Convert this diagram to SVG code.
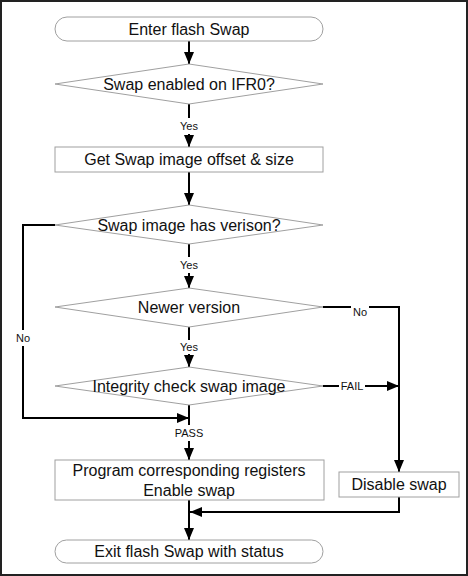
<svg xmlns="http://www.w3.org/2000/svg" width="468" height="576" viewBox="0 0 468 576">
<defs>
<style>
.shape{fill:#fff;stroke:#a0a0a0;stroke-width:1}
.t{font-family:"Liberation Sans",Arial,sans-serif;font-size:16px;fill:#111;text-anchor:middle;dominant-baseline:central}
.lbl{font-family:"Liberation Sans",Arial,sans-serif;font-size:11px;fill:#111;text-anchor:middle;dominant-baseline:central}
.c{fill:none;stroke:#000;stroke-width:2}
</style>
<marker id="ah" markerWidth="12" markerHeight="10" refX="12" refY="5" orient="auto" markerUnits="userSpaceOnUse"><path d="M0,0 L12,5 L0,10 z" fill="#000"/></marker>
</defs>
<rect x="1" y="1" width="466" height="574" fill="#fff" stroke="#222" stroke-width="2"/>
<g id="connectors">
<path class="c" d="M189,41 V64" marker-end="url(#ah)"/>
<path class="c" d="M189,104 V118"/>
<path class="c" d="M189,134 V147" marker-end="url(#ah)"/>
<path class="c" d="M189,172 V205" marker-end="url(#ah)"/>
<path class="c" d="M55,225 H23 V330"/>
<path class="c" d="M23,346 V418 H189" marker-end="url(#ah)"/>
<path class="c" d="M189,244 V257"/>
<path class="c" d="M189,273 V288" marker-end="url(#ah)"/>
<path class="c" d="M323,307 H351"/>
<path class="c" d="M369,307 H399 V472" marker-end="url(#ah)"/>
<path class="c" d="M189,327 V340"/>
<path class="c" d="M189,354 V367" marker-end="url(#ah)"/>
<path class="c" d="M323,386 H339"/>
<path class="c" d="M365,386 H399" marker-end="url(#ah)"/>
<path class="c" d="M189,405 V425"/>
<path class="c" d="M189,441 V460" marker-end="url(#ah)"/>
<path class="c" d="M189,500 V540" marker-end="url(#ah)"/>
<path class="c" d="M399,497 V512 H190" marker-end="url(#ah)"/>
<text class="lbl" x="189" y="126">Yes</text>
<text class="lbl" x="23" y="338">No</text>
<text class="lbl" x="189" y="265">Yes</text>
<text class="lbl" x="360" y="312">No</text>
<text class="lbl" x="189" y="347">Yes</text>
<text class="lbl" x="352" y="386">FAIL</text>
<text class="lbl" x="189" y="433">PASS</text>
</g>
<g id="start">
<rect class="shape" x="55" y="17" width="268" height="24" rx="12"/>
<text class="t" x="189" y="29">Enter flash Swap</text>
</g>
<g id="swapEnabled">
<polygon class="shape" points="189,64 323,84 189,104 55,84"/>
<text class="t" x="189" y="84">Swap enabled on IFR0?</text>
</g>
<g id="getOffset">
<rect class="shape" x="55" y="147" width="268" height="25"/>
<text class="t" x="189" y="159.5">Get Swap image offset &amp; size</text>
</g>
<g id="hasVersion">
<polygon class="shape" points="189,205 323,225 189,244 55,225"/>
<text class="t" x="189" y="225">Swap image has verison?</text>
</g>
<g id="newerVersion">
<polygon class="shape" points="189,288 323,307 189,327 55,307"/>
<text class="t" x="189" y="307">Newer version</text>
</g>
<g id="integrity">
<polygon class="shape" points="189,367 323,386 189,405 55,386"/>
<text class="t" x="189" y="386">Integrity check swap image</text>
</g>
<g id="program">
<rect class="shape" x="55" y="460" width="269" height="40"/>
<text class="t" x="189" y="470">Program corresponding registers</text>
<text class="t" x="189" y="490">Enable swap</text>
</g>
<g id="disable">
<rect class="shape" x="339" y="472" width="120" height="25"/>
<text class="t" x="399" y="484.5">Disable swap</text>
</g>
<g id="exit">
<rect class="shape" x="55" y="540" width="268" height="23" rx="11.5"/>
<text class="t" x="189" y="551.5">Exit flash Swap with status</text>
</g>
</svg>
